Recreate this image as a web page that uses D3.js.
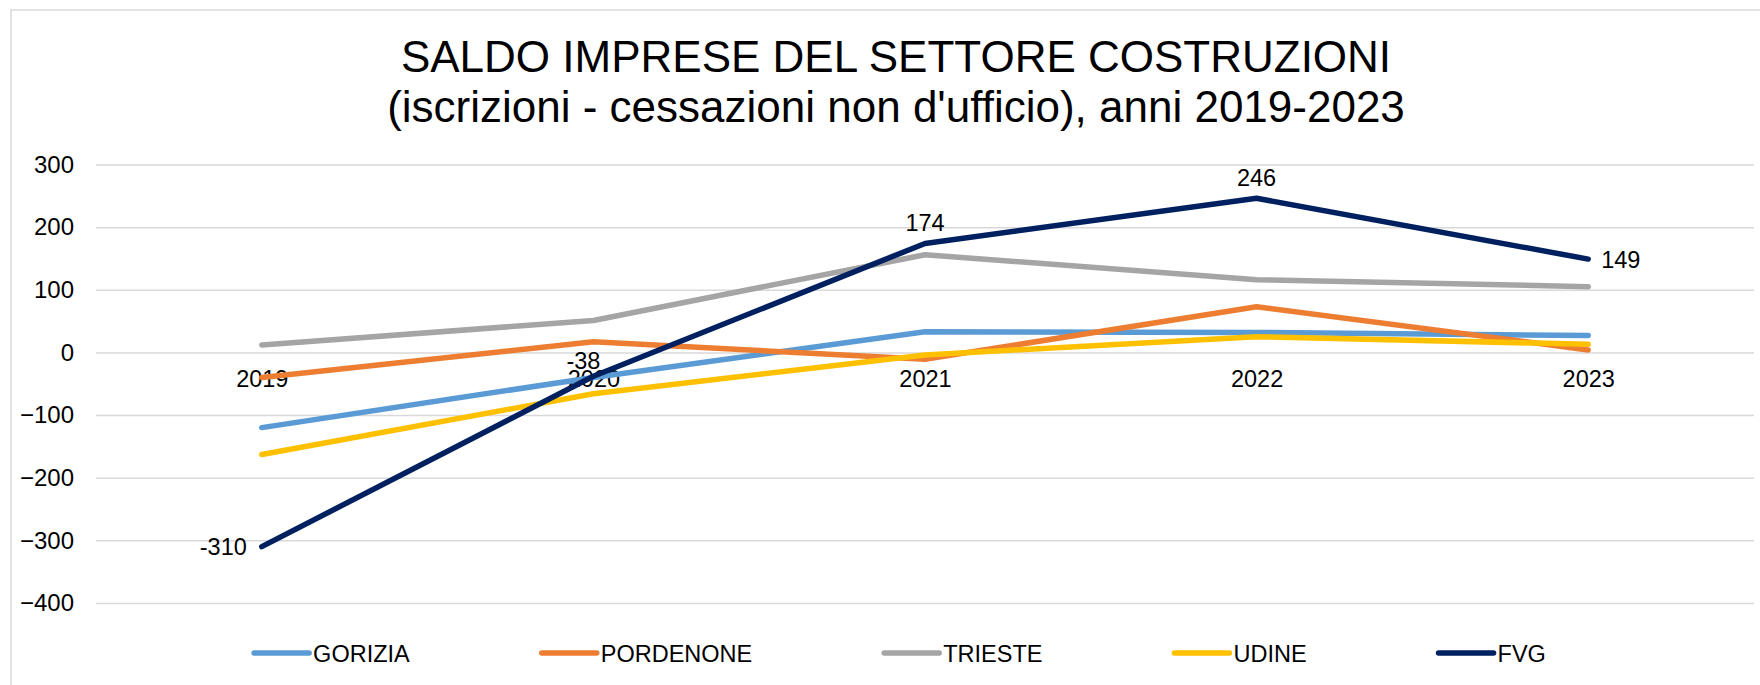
<!DOCTYPE html>
<html>
<head>
<meta charset="utf-8">
<script src="https://cdn.jsdelivr.net/npm/d3@7"></script>
<style>
  body { margin: 0; background: #fff; }
  text { font-family: "Liberation Sans", Arial, sans-serif; fill: #000; }
</style>
</head>
<body>
<script>
var w = 1760;
var h = 685;

// data
var years = ["2019", "2020", "2021", "2022", "2023"];
var seriesNames = ["GORIZIA", "PORDENONE", "TRIESTE", "UDINE", "FVG"];
var gorizia = [-120, -40, 33, 32, 27];
var pordenone = [-40, 17, -11, 73, 4];
var trieste = [12, 51, 156, 116, 105];
var udine = [-163, -66, -4, 25, 13];
var fvg = [-310, -38, 174, 246, 149];
var yTicks = [300, 200, 100, 0, -100, -200, -300, -400];
var titleLines = ["SALDO IMPRESE DEL SETTORE COSTRUZIONI",
                  "(iscrizioni - cessazioni non d'ufficio), anni 2019-2023"];

var colors = ["#5B9BD5", "#ED7D31", "#A5A5A5", "#FFC000", "#002060"];
var allSeries = [gorizia, pordenone, trieste, udine, fvg];

var series = seriesNames.map((name, i) => {
    return {
        name: name,
        color: colors[i],
        values: allSeries[i].map((v, j) => ({ year: years[j], value: v }))
    };
});

// placement of the FVG value labels
var labelPlace = ["left", "above", "above", "above", "right"];

var plotLeft = 96;
var plotRight = 1754;

var xScale = d3.scalePoint()
    .domain(years)
    .range([plotLeft, plotRight])
    .padding(0.5);

var yScale = d3.scaleLinear()
    .domain([-400, 300])
    .range([603, 164.5]);

var svg = d3.select("body")
    .append("svg")
    .attr("width", w)
    .attr("height", h);

svg.append("rect")
    .attr("x", 11)
    .attr("y", 10)
    .attr("width", 1800)
    .attr("height", 720)
    .attr("fill", "#fff")
    .attr("stroke", "#D9D9D9")
    .attr("stroke-width", 1.5);

// title
svg.selectAll(".title")
    .data(titleLines)
    .enter()
    .append("text")
    .attr("class", "title")
    .attr("x", 896)
    .attr("y", (d, i) => 72 + i * 50)
    .attr("text-anchor", "middle")
    .style("font-size", "44px")
    .text(d => d);

// gridlines + y labels
var yAxis = d3.axisLeft(yScale)
    .tickValues(yTicks)
    .tickSize(-(plotRight - plotLeft))
    .tickPadding(22);

var gy = svg.append("g")
    .attr("transform", "translate(" + plotLeft + ",0)")
    .call(yAxis);
gy.select(".domain").remove();
gy.selectAll(".tick line")
    .attr("stroke", "#D9D9D9")
    .attr("stroke-width", 1.5);
gy.selectAll(".tick text")
    .style("font-size", "24px")
    .attr("fill", "#000");

// category labels just under the zero line
var xAxis = d3.axisBottom(xScale)
    .tickSize(0)
    .tickPadding(18);
var gx = svg.append("g")
    .attr("transform", "translate(0," + yScale(0) + ")")
    .call(xAxis);
gx.select(".domain").remove();
gx.selectAll(".tick text")
    .style("font-size", "23.5px")
    .attr("fill", "#000");

// lines
var line = d3.line()
    .x(d => xScale(d.year))
    .y(d => yScale(d.value));

svg.selectAll(".series")
    .data(series)
    .enter()
    .append("path")
    .attr("class", "series")
    .attr("d", d => line(d.values))
    .attr("fill", "none")
    .attr("stroke", d => d.color)
    .attr("stroke-width", 5.5)
    .attr("stroke-linecap", "round")
    .attr("stroke-linejoin", "round");

// FVG value labels
svg.selectAll(".vlabel")
    .data(series[4].values)
    .enter()
    .append("text")
    .attr("class", "vlabel")
    .style("font-size", "23.5px")
    .attr("text-anchor", (d, i) => labelPlace[i] == "left" ? "end" : labelPlace[i] == "right" ? "start" : "middle")
    .attr("x", (d, i) => {
        var x = xScale(d.year);
        if (labelPlace[i] == "left") return x - 15;
        if (labelPlace[i] == "right") return x + 13;
        if (i == 1) return x - 10;
        return x;
    })
    .attr("y", (d, i) => {
        var y = yScale(d.value);
        if (labelPlace[i] == "above") return i == 1 ? y - 7 : y - 12;
        return y + 8.5;
    })
    .text(d => d.value);

// legend
var legend = svg.append("g");
var items = legend.selectAll(".item")
    .data(series)
    .enter()
    .append("g")
    .attr("class", "item");

items.append("line")
    .attr("x1", 0)
    .attr("x2", 55)
    .attr("y1", 0)
    .attr("y2", 0)
    .attr("stroke", d => d.color)
    .attr("stroke-width", 5.5)
    .attr("stroke-linecap", "round");

items.append("text")
    .attr("x", 59)
    .attr("y", 8.5)
    .style("font-size", "23.5px")
    .text(d => d.name);

var gap = 132;
var xpos = 0;
items.each(function() {
    var tw = d3.select(this).select("text").node().getComputedTextLength();
    d3.select(this).attr("data-x", xpos);
    xpos += 59 + tw + gap;
});
var total = xpos - gap;
var startX = 900 - total / 2;
items.attr("transform", function() {
    return "translate(" + (startX + (+d3.select(this).attr("data-x"))) + ",653)";
});
</script>
</body>
</html>
